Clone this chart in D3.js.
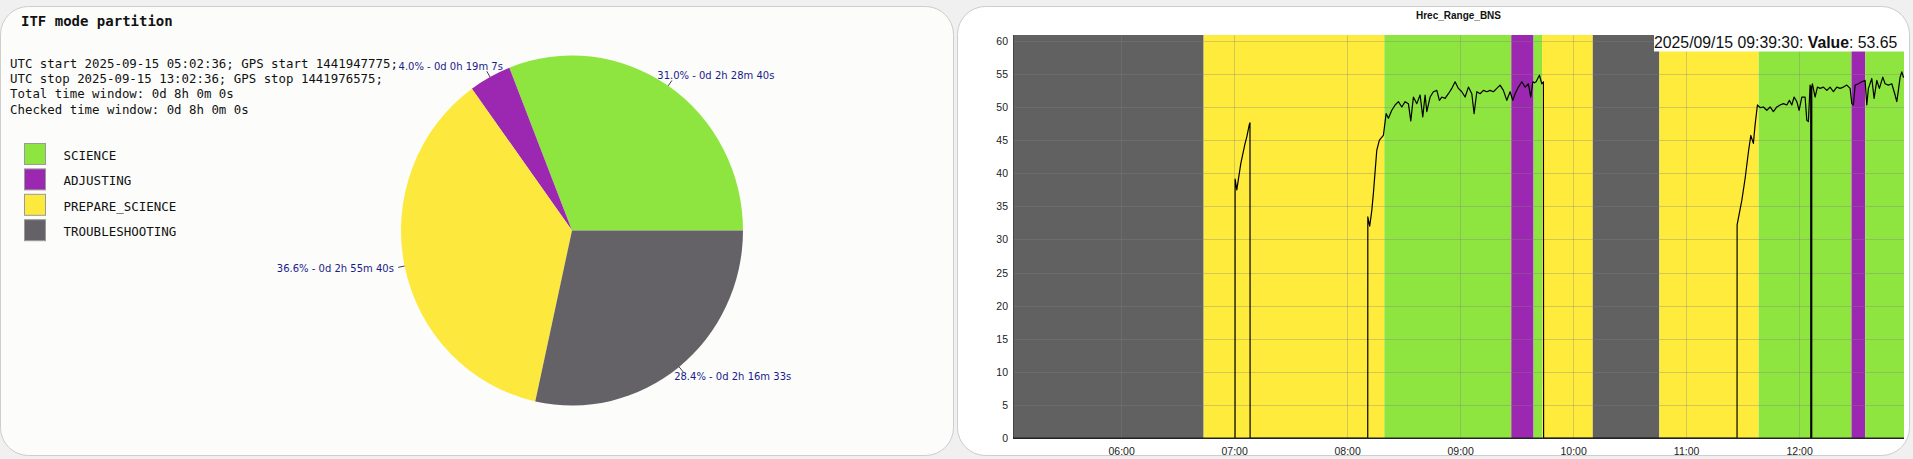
<!DOCTYPE html>
<html><head><meta charset="utf-8">
<script src="https://cdn.jsdelivr.net/npm/d3@7"></script>
<style>html,body{margin:0;padding:0;background:#f0f0f0;overflow:hidden}</style>
</head><body>
<svg id="c" width="1913" height="459"></svg>
<script>
// ---------------- data ----------------
const modeNames = ["SCIENCE", "ADJUSTING", "PREPARE_SCIENCE", "TROUBLESHOOTING"];
const modeSeconds = [8920, 1147, 10540, 8193];
const pieTitle = "ITF mode partition";
const infoLines = [
  "UTC start 2025-09-15 05:02:36; GPS start 1441947775;",
  "UTC stop 2025-09-15 13:02:36; GPS stop 1441976575;",
  "Total time window: 0d 8h 0m 0s",
  "Checked time window: 0d 8h 0m 0s"
];
const chartTitle = "Hrec_Range_BNS";
const timeStart = "05:02:36", timeStop = "13:02:36";
const bandStarts = ["05:02:36","06:43:49","08:19:47","09:27:11","09:39:00","09:43:30","10:10:27","10:45:47","11:38:32","12:27:50","12:35:08"];
const bandEnds   = ["06:43:49","08:19:47","09:27:11","09:39:00","09:43:30","10:10:27","10:45:47","11:38:32","12:27:50","12:35:08","13:02:36"];
const bandModes  = ["TROUBLESHOOTING","PREPARE_SCIENCE","SCIENCE","ADJUSTING","SCIENCE","PREPARE_SCIENCE","TROUBLESHOOTING","PREPARE_SCIENCE","SCIENCE","ADJUSTING","SCIENCE"];
const lineTimes = ["07:00:30","07:00:32","07:01:26","07:03:34","07:05:50","07:06:45","07:08:07","07:08:26","07:08:30",
"08:10:58","08:11:00","08:12:00","08:13:07","08:13:58","08:15:46","08:17:09","08:19:16","08:20:43","08:21:56","08:23:44",
"08:25:29","08:27:14","08:29:02","08:30:48","08:32:33","08:33:49","08:35:12","08:37:01","08:38:46","08:40:11","08:41:25",
"08:42:19","08:44:04","08:45:49","08:47:38","08:49:01","08:50:17","08:52:02","08:53:47","08:55:35","08:57:20","08:59:06",
"09:00:54","09:02:39","09:04:25","09:06:13","09:07:26","09:08:52","09:10:37","09:12:22","09:14:11","09:15:56","09:17:41",
"09:19:29","09:21:14","09:22:59","09:24:48","09:26:33","09:27:59","09:29:12","09:30:58","09:32:46","09:34:31","09:36:16",
"09:37:32","09:38:36","09:39:30","09:40:21","09:42:07","09:43:23","09:44:14","09:44:20",
"11:27:03","11:27:05","11:29:35","11:31:20","11:33:05","11:34:21","11:35:44","11:36:38","11:37:52","11:39:17","11:41:02",
"11:42:51","11:44:36","11:46:21","11:48:10","11:49:55","11:51:40","11:53:28","11:54:51","11:56:07","11:57:20","11:58:47",
"12:00:00","12:01:26","12:03:11","12:04:05","12:04:56","12:05:50","12:06:10","12:06:12","12:06:42","12:06:44","12:07:04",
"12:08:30","12:09:43","12:11:09","12:12:54","12:14:43","12:16:28","12:18:13","12:20:01","12:21:46","12:23:31","12:25:20",
"12:27:05","12:27:59","12:28:50","12:29:44","12:31:29","12:33:17","12:35:02","12:35:57","12:36:48","12:38:36","12:39:49",
"12:41:16","12:42:38","12:44:26","12:45:40","12:47:25","12:49:13","12:50:58","12:51:52","12:52:43","12:53:38","12:54:32",
"12:55:23","12:57:00"];
const lineValues = [0,39.1,37.5,41.5,44.5,45.5,47.4,47.6,0,
0,33.4,32.0,34.4,37.0,43.5,45.0,45.7,49.0,48.3,49.5,
50.3,50.8,50.0,50.8,50.5,47.9,51.5,50.5,51.8,48.5,51.8,
49.3,51.5,52.3,52.5,51.0,51.5,51.3,52.0,52.8,53.8,52.8,
52.3,51.5,53.0,52.0,49.0,52.3,52.0,52.5,52.3,52.5,52.3,
52.8,53.3,52.5,51.0,52.3,51.0,52.0,53.0,53.8,53.0,53.5,
51.5,53.8,53.65,53.8,54.8,53.5,53.8,0,
0,32.2,35.9,39.2,43.2,45.7,44.5,47.3,50.3,49.9,50.0,
49.5,50.0,49.3,50.0,50.3,50.5,50.3,51.0,50.3,51.5,50.8,
49.5,51.5,51.5,48.0,47.8,53.3,53.0,0,0,53.0,53.5,
51.5,53.0,52.8,53.0,52.5,53.0,52.3,53.0,52.8,53.0,53.3,
52.8,50.5,50.3,53.3,53.5,53.8,54.0,50.3,52.8,54.3,51.3,
54.0,52.8,54.5,53.5,53.3,53.5,51.8,50.8,52.5,54.5,55.3,
54.5,54.8];
const xTickLabels = ["06:00","07:00","08:00","09:00","10:00","11:00","12:00"];
const yTickValues = [0,5,10,15,20,25,30,35,40,45,50,55,60];
const hoverTime = "2025/09/15 09:39:30", hoverValue = 53.65;

// ---------------- styles ----------------
const bandColor = {SCIENCE:"#8ee53f", ADJUSTING:"#9c27b0", PREPARE_SCIENCE:"#ffeb3b", TROUBLESHOOTING:"#616161"};
const pieColor  = {SCIENCE:"#8ee53f", ADJUSTING:"#9c27b0", PREPARE_SCIENCE:"#fde93d", TROUBLESHOOTING:"#646266"};
const mono = "'DejaVu Sans Mono', 'Liberation Mono', monospace";
const sans = "'Liberation Sans', Arial, sans-serif";

const svg = d3.select("#c");

function card(x, y, w, h, fill) {
  svg.append("rect").attr("x", x + 0.5).attr("y", y + 0.5).attr("width", w).attr("height", h)
    .attr("rx", 28).attr("ry", 28).attr("fill", fill).attr("stroke", "#cdcdcd").attr("stroke-width", 1);
}
card(0, 6, 953, 449, "#fcfdfb");
card(957, 6, 952, 449, "#ffffff");

// ---------------- left panel ----------------
const L = svg.append("g");
L.append("text").attr("x", 21).attr("y", 26).attr("font-family", mono).attr("font-weight", "bold")
  .attr("font-size", 14).attr("fill", "#111").text(pieTitle);
L.selectAll("text.info").data(infoLines).join("text").attr("class", "info")
  .attr("x", 10).attr("y", (d, i) => 67.5 + i * 15.4).attr("font-family", mono).attr("font-size", 12.4)
  .attr("fill", "#111").text(d => d);

const leg = L.selectAll("g.leg").data(modeNames).join("g").attr("class", "leg")
  .attr("transform", (d, i) => `translate(24.5, ${143.5 + i * 25.4})`);
leg.append("rect").attr("width", 21).attr("height", 21).attr("fill", d => pieColor[d])
  .attr("stroke", "#9a9a9a").attr("stroke-width", 1);
leg.append("text").attr("x", 39).attr("y", 16.5).attr("font-family", mono).attr("font-size", 12.5)
  .attr("fill", "#111").text(d => d);

// pie
const cx = 572, cy = 230.5, rx = 171, ry = 175;
const total = d3.sum(modeSeconds);
const pieData = d3.pie().sort(null).startAngle(Math.PI / 2).endAngle(Math.PI / 2 - 2 * Math.PI)(modeSeconds);
const arc = d3.arc().innerRadius(0).outerRadius(rx);
const pg = L.append("g").attr("transform", `translate(${cx},${cy}) scale(1,${ry / rx})`);
pg.selectAll("path").data(pieData).join("path").attr("d", arc).attr("fill", (d, i) => pieColor[modeNames[i]]);

function fmtDur(s) {
  const d = Math.floor(s / 86400), h = Math.floor((s % 86400) / 3600), m = Math.floor((s % 3600) / 60), sec = s % 60;
  return `${d}d ${h}h ${m}m ${sec}s`;
}
pieData.forEach((p, i) => {
  const th = (p.startAngle + p.endAngle) / 2;
  const s = Math.sin(th), c = Math.cos(th);
  const p0 = [cx + rx * s, cy - ry * c];
  const p1 = [cx + (rx + 6.5) * s, cy - (ry + 6.5) * c];
  L.append("line").attr("x1", p0[0]).attr("y1", p0[1]).attr("x2", p1[0]).attr("y2", p1[1])
    .attr("stroke", "#111").attr("stroke-width", 0.8);
  const t = L.append("text").attr("font-family", "'DejaVu Sans', sans-serif").attr("font-size", 10)
    .attr("fill", "#1b1b8c").text(`${(100 * modeSeconds[i] / total).toFixed(1)}% - ${fmtDur(modeSeconds[i])}`);
  const w = t.node().getComputedTextLength();
  const ccx = p1[0] + (w / 2) * Math.sign(s) * Math.sqrt(Math.abs(s)) + (c < 0 ? 5 * s : 0);
  const ccy = p1[1] - 6 * c;
  t.attr("x", ccx - w / 2).attr("y", ccy + 3.6);
});

// ---------------- right panel ----------------
const parse = d3.timeParse("%H:%M:%S");
const parseHM = d3.timeParse("%H:%M");
const x0 = 1013, plotRight = 1904, yTop = 35, yBot = 438.3;
const x = d3.scaleTime().domain([parse(timeStart), parse(timeStop)]).range([x0, x0 + 8 * 113]);
const y = d3.scaleLinear().domain([0, 60.86]).range([yBot, yTop]);

svg.append("defs").append("clipPath").attr("id", "pc").append("rect")
  .attr("x", x0).attr("y", yTop).attr("width", plotRight - x0).attr("height", yBot - yTop + 1);
const P = svg.append("g").attr("clip-path", "url(#pc)");

P.selectAll("rect.band").data(bandModes).join("rect").attr("class", "band")
  .attr("x", (d, i) => x(parse(bandStarts[i]))).attr("y", yTop)
  .attr("width", (d, i) => x(parse(bandEnds[i])) - x(parse(bandStarts[i])))
  .attr("height", yBot - yTop).attr("fill", d => bandColor[d]);

// grid
const xTicks = xTickLabels.map(parseHM);
P.selectAll("line.gx").data(xTicks).join("line").attr("class", "gx")
  .attr("x1", d => Math.round(x(d)) + 0.5).attr("x2", d => Math.round(x(d)) + 0.5)
  .attr("y1", yTop).attr("y2", yBot).attr("stroke", "rgba(128,128,128,0.35)").attr("stroke-width", 1);
P.selectAll("line.gy").data(yTickValues).join("line").attr("class", "gy")
  .attr("x1", x0).attr("x2", plotRight).attr("y1", d => Math.round(y(d)) + 0.5).attr("y2", d => Math.round(y(d)) + 0.5)
  .attr("stroke", "rgba(128,128,128,0.35)").attr("stroke-width", 1);

// line
const pts = lineTimes.map((t, i) => [parse(t), lineValues[i]]);
P.append("path").datum(pts).attr("fill", "none").attr("stroke", "#000").attr("stroke-width", 1.2)
  .attr("stroke-linejoin", "round")
  .attr("d", d3.line().x(d => x(d[0])).y(d => y(d[1])));

// axes
const xAxis = svg.append("g").attr("transform", `translate(0,${yBot})`)
  .call(d3.axisBottom(x).tickValues(xTicks).tickFormat(d3.timeFormat("%H:%M")).tickSize(0).tickPadding(9));
xAxis.select(".domain").remove();
xAxis.selectAll("text").attr("font-family", sans).attr("font-size", 10.5).attr("fill", "#222");
const yAxis = svg.append("g").attr("transform", `translate(${x0},0)`)
  .call(d3.axisLeft(y).tickValues(yTickValues).tickSize(0).tickPadding(5));
yAxis.select(".domain").remove();
yAxis.selectAll("text").attr("font-family", sans).attr("font-size", 10.5).attr("fill", "#222");
svg.append("line").attr("x1", x0 + 0.5).attr("x2", x0 + 0.5).attr("y1", yTop).attr("y2", yBot)
  .attr("stroke", "#444").attr("stroke-width", 1);
svg.append("line").attr("x1", x0).attr("x2", plotRight).attr("y1", yBot).attr("y2", yBot)
  .attr("stroke", "#222").attr("stroke-width", 1.4);

// title
svg.append("text").attr("x", (x0 + plotRight) / 2).attr("y", 18.5).attr("text-anchor", "middle")
  .attr("font-family", sans).attr("font-weight", "bold").attr("font-size", 10).attr("fill", "#111").text(chartTitle);

// hover legend
svg.append("rect").attr("x", plotRight - 250).attr("y", yTop).attr("width", 250).attr("height", 16.5).attr("fill", "#fff");
const lt = svg.append("text").attr("x", plotRight - 250).attr("y", 48).attr("font-family", sans)
  .attr("font-size", 15.8).attr("fill", "#111");
lt.append("tspan").text(hoverTime + ": ");
lt.append("tspan").attr("font-weight", "bold").text("Value");
lt.append("tspan").text(": " + hoverValue);
</script>
</body></html>
